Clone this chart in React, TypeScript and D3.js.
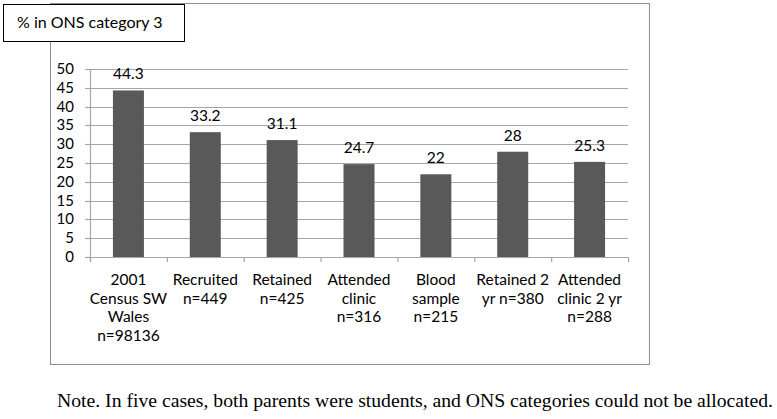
import React from "react";
import * as d3 from "d3";

const categories = ["c1", "c2", "c3", "c4", "c5", "c6", "c7"];
const categoryLabels: string[][] = [
  ["2001", "Census SW", "Wales", "n=98136"],
  ["Recruited", "n=449"],
  ["Retained", "n=425"],
  ["Attended", "clinic", "n=316"],
  ["Blood", "sample", "n=215"],
  ["Retained 2", "yr n=380"],
  ["Attended", "clinic 2 yr", "n=288"],
];
const values = [44.3, 33.2, 31.1, 24.7, 22, 28, 25.3];
const yTicks = [0, 5, 10, 15, 20, 25, 30, 35, 40, 45, 50];
const yTitle = "% in ONS category 3";
const note =
  "Note. In five cases, both parents were students, and ONS categories could not be allocated.";

export default function App() {
  const W = 777;
  const H = 419;
  const left = 90;
  const right = 628;
  const top = 69;
  const bottom = 257;
  const x = d3.scaleBand<string>().domain(categories).range([left, right]);
  const y = d3.scaleLinear().domain([0, 50]).range([bottom, top]);
  const barW = 31;
  const font = "Lato, 'Open Sans', sans-serif";
  const boundaries = categories.map((c) => x(c)!).concat([right]);

  return (
    <svg
      width={W}
      height={H}
      style={{ position: "absolute", left: 0, top: 0, background: "#fff" }}
    >
      <rect x={0} y={0} width={W} height={H} fill="#fff" />
      {/* chart area border */}
      <rect x={50.5} y={3.5} width={599} height={361} fill="none" stroke="#8c8c8c" strokeWidth={1} />
      {/* gridlines */}
      {yTicks.map((t) => (
        <line key={t} x1={left} x2={right} y1={Math.round(y(t)) + 0.5} y2={Math.round(y(t)) + 0.5} stroke="#a6a6a6" strokeWidth={1.2} />
      ))}
      {/* y axis */}
      <line x1={left + 0.5} x2={left + 0.5} y1={top} y2={bottom + 5} stroke="#a6a6a6" strokeWidth={1.2} />
      {yTicks.map((t) => (
        <line key={"yt" + t} x1={left - 5} x2={left} y1={Math.round(y(t)) + 0.5} y2={Math.round(y(t)) + 0.5} stroke="#a6a6a6" strokeWidth={1.2} />
      ))}
      {yTicks.map((t) => (
        <text key={"yl" + t} x={74} y={y(t) + 5} textAnchor="end" fontFamily={font} fontSize={15} fill="#000">
          {t}
        </text>
      ))}
      {/* x tick marks */}
      {boundaries.map((b, i) => (
        <line key={"xt" + i} x1={b + 0.5} x2={b + 0.5} y1={bottom} y2={bottom + 5} stroke="#a6a6a6" strokeWidth={1.2} />
      ))}
      {/* bars */}
      {categories.map((c, i) => {
        const cx = x(c)! + x.bandwidth() / 2;
        return (
          <g key={c}>
            <rect x={cx - barW / 2} y={y(values[i])} width={barW} height={bottom - y(values[i])} fill="#595959" />
            <text x={cx} y={y(values[i]) - 11} textAnchor="middle" fontFamily={font} fontSize={15.5} fill="#000">
              {values[i]}
            </text>
            {categoryLabels[i].map((l, j) => (
              <text key={j} x={cx} y={285 + j * 18.5} textAnchor="middle" fontFamily={font} fontSize={15.5} fill="#000">
                {l}
              </text>
            ))}
          </g>
        );
      })}
      {/* title box */}
      <rect x={3.5} y={4.5} width={181} height={37} fill="#fff" stroke="#000" strokeWidth={1} />
      <text x={17} y={28} fontFamily={font} fontSize={16} fill="#000">
        {yTitle}
      </text>
      {/* note */}
      <text x={57} y={407} fontFamily="'Liberation Serif', 'Times New Roman', serif" fontSize={19.5} textLength={716} lengthAdjust="spacingAndGlyphs" fill="#000">
        {note}
      </text>
    </svg>
  );
}
